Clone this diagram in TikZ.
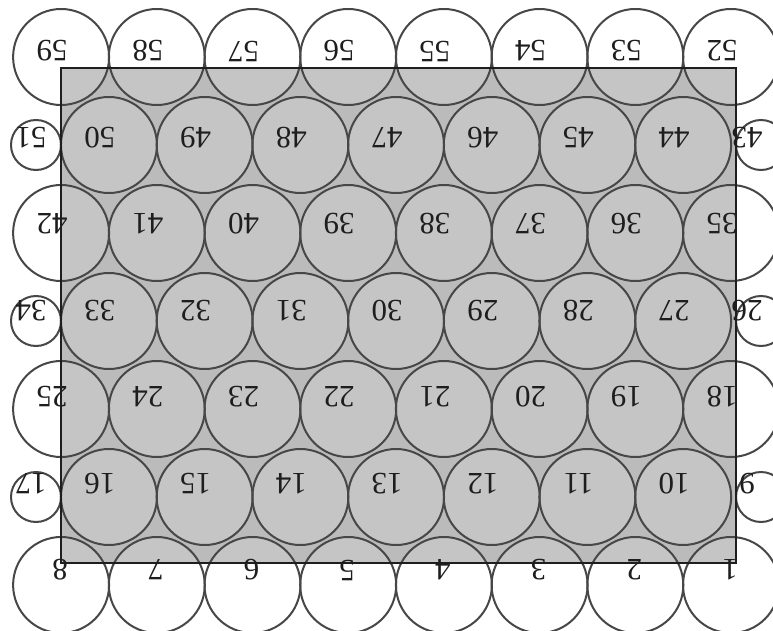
\documentclass[tikz,border=0pt]{standalone}
\usepackage{fontspec}
\setmainfont{Liberation Serif}
\usepackage{tikz}
\usetikzlibrary{positioning}
\definecolor{plate}{HTML}{BBBBBB}
\definecolor{well}{HTML}{C5C5C5}
\definecolor{rim}{HTML}{474747}
\definecolor{ink}{HTML}{1E1E1E}

\begin{document}
\begin{tikzpicture}[x=1pt,y=-1pt,
  wellrim/.style={circle,draw=rim,line width=2pt,inner sep=0pt,minimum size=96pt},
  smallrim/.style={wellrim,minimum size=50pt},
  numlbl/.style={font=\fontsize{31}{31}\selectfont,text=ink,rotate=180,inner sep=0pt}]
  \useasboundingbox (0,0) rectangle (773,631);
  \clip (0,0) rectangle (773,631);
  % plate background
  \fill[plate] (61,68) rectangle (736,563);
  \begin{scope}
    \clip (61,68) rectangle (736,563);
    \foreach \k in {0,2,4,6}
      \foreach \c in {0,...,7}{\fill[well] (731-95.7*\c,585-88*\k) circle (48);}
    \foreach \k in {1,3,5}{
      \foreach \c in {0,...,6}{\fill[well] (683.15-95.7*\c,585-88*\k) circle (48);}
      \fill[well] (761,585-88*\k) circle (25);
      \fill[well] (36,585-88*\k) circle (25);}
  \end{scope}
  % full rows
  \foreach \k/\s in {0/1,2/18,4/35,6/52}
    \foreach \c in {0,...,7}{
      \pgfmathtruncatemacro{\m}{\s+\c}
      \node[wellrim] (w\m) at (731-95.7*\c,585-88*\k) {};}
  % offset rows
  \foreach \k/\s in {1/9,3/26,5/43}{
    \pgfmathtruncatemacro{\e}{\s+8}
    \node[smallrim] (w\s) at (761,585-88*\k) {};
    \node[smallrim] (w\e) at (36,585-88*\k) {};
    \foreach \c in {0,...,6}{
      \pgfmathtruncatemacro{\m}{\s+1+\c}
      \node[wellrim] (w\m) at (683.15-95.7*\c,585-88*\k) {};}}
  \draw[ink,line width=2.2pt] (61,68) rectangle (736,563);
  % upside-down numbers
  \foreach \k/\s/\t in {0/1/8,1/9/17,2/18/25,3/26/34,4/35/42,5/43/51,6/52/59}
    \foreach \m in {\s,...,\t}{
      \pgfmathsetmacro{\dy}{15-1.5*\k}
      \ifnum\m<10 \def\dx{-1}\else\def\dx{-9}\fi
      \ifnum\m=\s \ifodd\k \def\dx{-14}\fi\fi
      \ifnum\m=\t \ifodd\k \def\dx{-5}\fi\fi
      \node[numlbl] (n\m) at ([xshift=\dx pt,yshift=\dy pt]w\m.center) {\m};}
\end{tikzpicture}
\end{document}
